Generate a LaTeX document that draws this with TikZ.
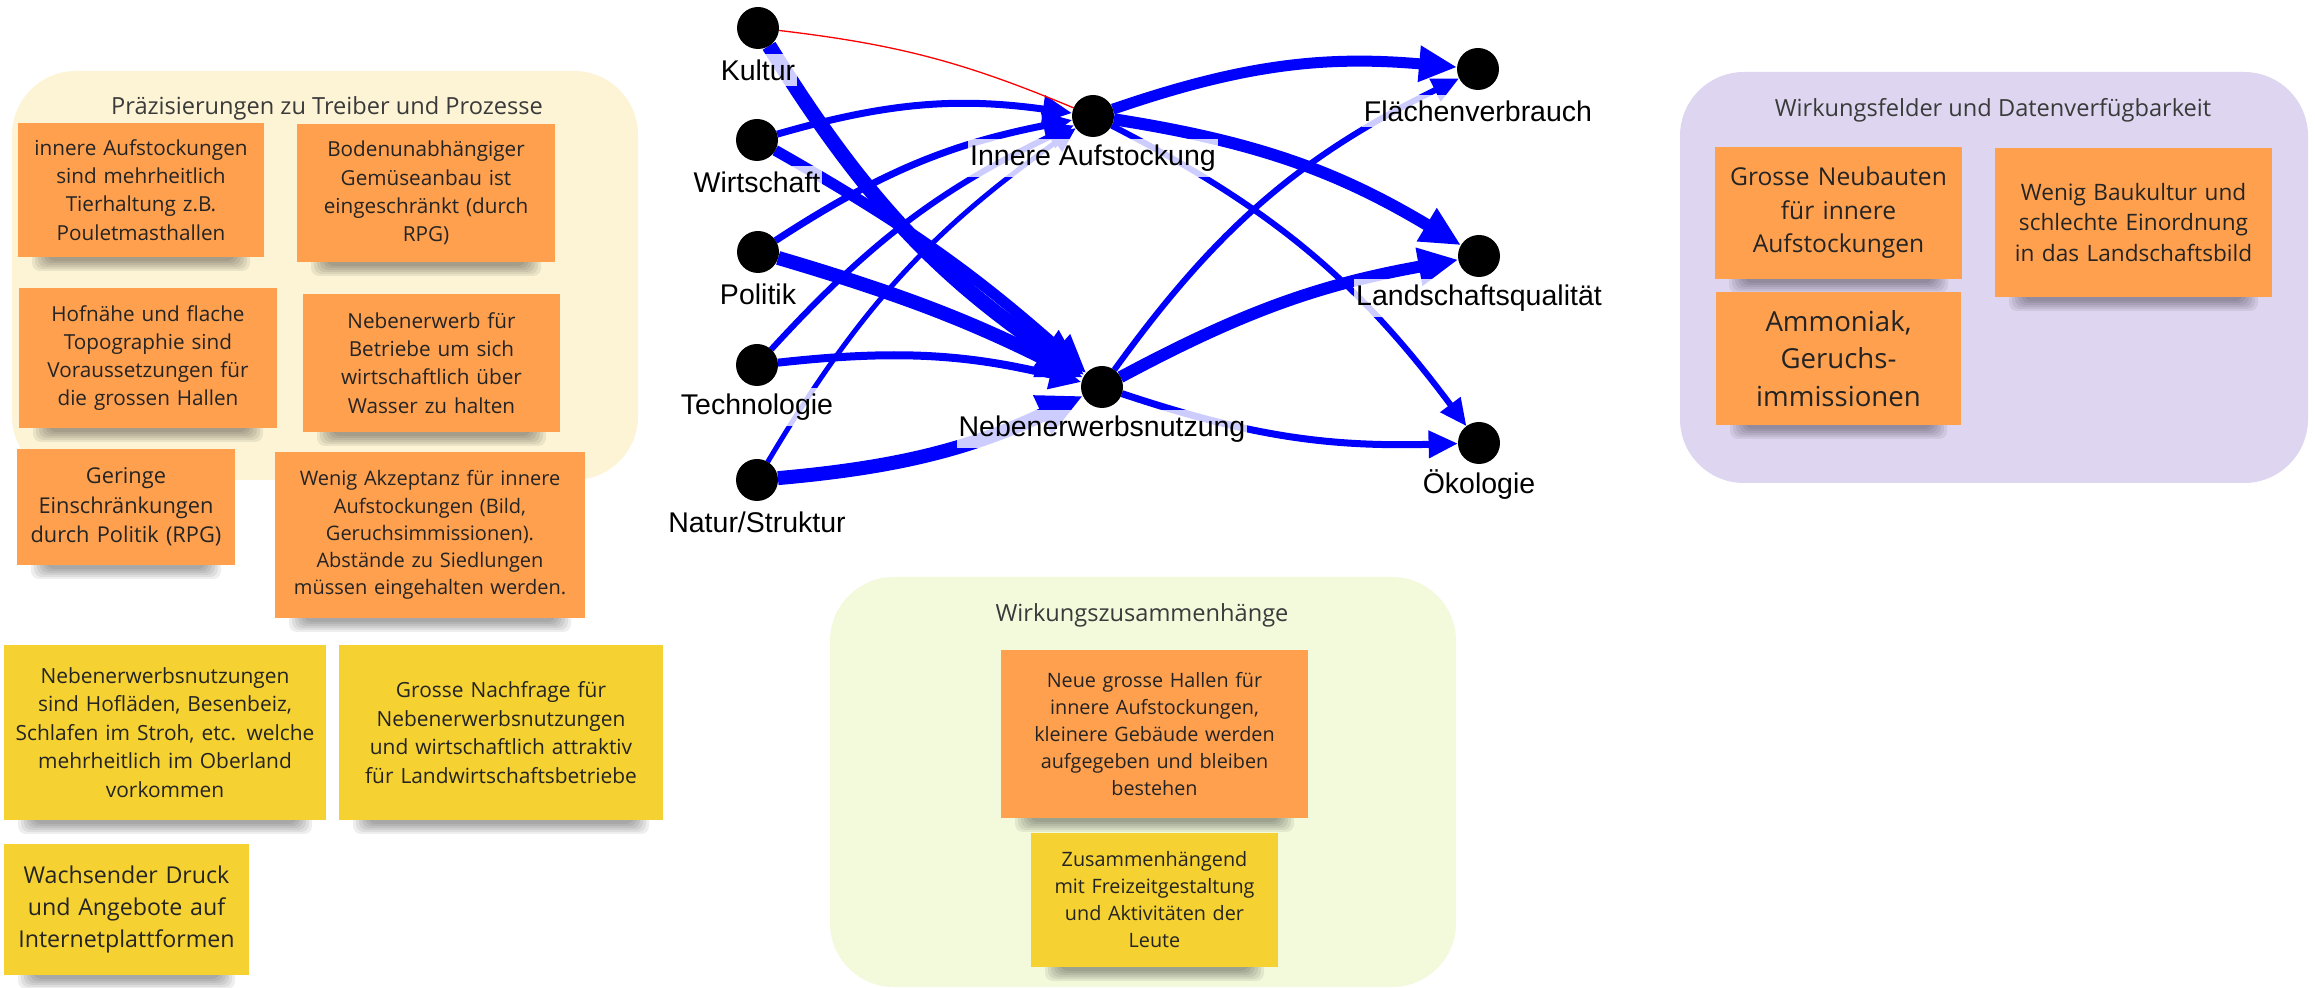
\documentclass[tikz,border=0pt]{standalone}
\usepackage{fontspec}
\setmainfont{Open Sans}
\newfontfamily\graphfont{Liberation Sans}
\usetikzlibrary{arrows.meta}

\definecolor{noteorange}{RGB}{255,160,78}
\definecolor{noteyellow}{RGB}{245,209,50}
\definecolor{zonecream}{RGB}{252,244,212}
\definecolor{zonegreen}{RGB}{243,249,219}
\definecolor{zonelilac}{RGB}{222,214,240}
\definecolor{inktext}{RGB}{36,36,36}
\definecolor{titletext}{RGB}{58,58,58}
\definecolor{linkblue}{RGB}{0,0,255}
\definecolor{linkred}{RGB}{255,0,0}

\pgfdeclarelayer{zones}
\pgfdeclarelayer{links}
\pgfsetlayers{zones,links,main}

% sticky note with a soft shadow under its lower edge:
% name, x1, y1, x2, y2, colour, font size (pt), text
\newcommand\stickynote[8]{%
  \pgfmathsetmacro\skw{(#4-#2)*0.5}%
  \pgfmathsetmacro\skh{(#5-#3)*0.5}%
  \pgfmathsetmacro\sktw{\skw-4}%
  \pgfmathsetmacro\skbs{#7*1.362}%
  \foreach \k in {0,...,5}{%
    \fill[black, opacity=0.065, rounded corners=4pt]
      ({#2+14+3*\k},{#5-20}) rectangle ({#4-14-3*\k},{#5+14-2*\k});}%
  \node[note, fill=#6, minimum width=\skw pt, minimum height=\skh pt,
        text width=\sktw pt, font={\fontsize{#7pt}{\skbs pt}\selectfont}]
        (#1) at ({(#2+#4)/2},{(#3+#5)/2}) {#8};}

\begin{document}
\begin{tikzpicture}[x=0.5pt, y=-0.5pt,
  zonetitle/.style={font=\fontsize{11.8pt}{14pt}\selectfont, text=titletext},
  note/.style={draw=none, align=center, inner sep=0pt, text=inktext},
  hub/.style={circle, fill=black, minimum size=21pt, inner sep=0pt, outer sep=0pt},
  hublabel/.style={font=\graphfont\fontsize{14.25pt}{16pt}\selectfont,
    fill=white, fill opacity=0.8, text opacity=1, inner xsep=1pt, inner ysep=3pt},
  flow/.style n args={3}{draw=linkblue, line width=#1, -{Triangle[length=#2, width=#3]}}]

\useasboundingbox (0,0) rectangle (2315,988);

% background zones
\begin{pgfonlayer}{zones}
  \fill[white] (0,0) rectangle (2315,988);
  \fill[zonecream, rounded corners=32pt] (12,71) rectangle (638,480);
  \fill[zonegreen, rounded corners=32pt] (830,577) rectangle (1456,987);
  \fill[zonelilac, rounded corners=32pt] (1680,72) rectangle (2308,483);
\end{pgfonlayer}

\node[zonetitle] (title-drivers) at (327,108) {Präzisierungen zu Treiber und Prozesse};
\node[zonetitle] (title-effects) at (1142,615) {Wirkungszusammenhänge};
\node[zonetitle] (title-fields) at (1993,110) {Wirkungsfelder und Datenverfügbarkeit};

% notes on drivers and processes
\stickynote{n1}{18}{123}{264}{257}{noteorange}{10.35}{innere Aufstockungen\\sind mehrheitlich\\Tierhaltung z.B.\\Pouletmasthallen}
\stickynote{n2}{297}{124}{555}{262}{noteorange}{10.35}{Bodenunabhängiger\\Gemüseanbau ist\\eingeschränkt (durch\\RPG)}
\stickynote{n3}{19}{288}{277}{428}{noteorange}{10.35}{Hofnähe und flache\\Topographie sind\\Voraussetzungen für\\die grossen Hallen}
\stickynote{n4}{303}{294}{560}{432}{noteorange}{10.35}{Nebenerwerb für\\Betriebe um sich\\wirtschaftlich über\\Wasser zu halten}
\stickynote{n5}{17}{449}{235}{565}{noteorange}{10.9}{Geringe\\Einschränkungen\\durch Politik (RPG)}
\stickynote{n6}{275}{452}{585}{618}{noteorange}{10}{Wenig Akzeptanz für innere\\Aufstockungen (Bild,\\Geruchsimmissionen).\\Abstände zu Siedlungen\\müssen eingehalten werden.}
\stickynote{n7}{4}{645}{326}{820}{noteyellow}{10.45}{Nebenerwerbsnutzungen\\sind Hofläden, Besenbeiz,\\Schlafen im Stroh, etc. welche\\mehrheitlich im Oberland\\vorkommen}
\stickynote{n8}{339}{645}{663}{820}{noteyellow}{10.45}{Grosse Nachfrage für\\Nebenerwerbsnutzungen\\und wirtschaftlich attraktiv\\für Landwirtschaftsbetriebe}
\stickynote{n9}{4}{844}{249}{975}{noteyellow}{11.6}{Wachsender Druck\\und Angebote auf\\Internetplattformen}

% notes on cause and effect
\stickynote{g1}{1001}{650}{1308}{818}{noteorange}{9.9}{Neue grosse Hallen für\\innere Aufstockungen,\\kleinere Gebäude werden\\aufgegeben und bleiben\\bestehen}
\stickynote{g2}{1031}{833}{1278}{967}{noteyellow}{9.9}{Zusammenhängend\\mit Freizeitgestaltung\\und Aktivitäten der\\Leute}

% notes on fields of effect
\stickynote{p1}{1715}{147}{1962}{279}{noteorange}{12.3}{Grosse Neubauten\\für innere\\Aufstockungen}
\stickynote{p2}{1716}{292}{1961}{425}{noteorange}{13.8}{Ammoniak,\\Geruchs-\\immissionen}
\stickynote{p3}{1995}{148}{2272}{297}{noteorange}{11.3}{Wenig Baukultur und\\schlechte Einordnung\\in das Landschaftsbild}

% graph nodes
\node[hub] (kultur) at (758,28) {};
\node[hub] (wirtschaft) at (757,140) {};
\node[hub] (politik) at (758,252) {};
\node[hub] (technologie) at (757,365) {};
\node[hub] (natur) at (757,480) {};
\node[hub] (innere) at (1093,116) {};
\node[hub] (neben) at (1102,387) {};
\node[hub] (flaeche) at (1478,69) {};
\node[hub] (landschaft) at (1479,256) {};
\node[hub] (oekologie) at (1479,443) {};

% influence links
\begin{pgfonlayer}{links}
  \draw[flow={3.5pt}{14.7pt}{13pt}] (wirtschaft) to[bend left=12] (innere);
  \draw[flow={3.5pt}{14.7pt}{13pt}] (politik) to[bend left=11] (innere);
  \draw[flow={3pt}{13.5pt}{12pt}] (technologie) to[bend left=11] (innere);
  \draw[flow={2.5pt}{12.5pt}{11pt}] (natur) to[bend left=12] (innere);
  \draw[flow={4pt}{16pt}{14pt}] (technologie) to[bend left=10] (neben);
  \draw[flow={7pt}{22.5pt}{20pt}] (natur) to[bend right=10] (neben);
  \draw[flow={7pt}{22.5pt}{20pt}] (politik) to[bend left=5] (neben);
  \draw[flow={5.5pt}{19pt}{17pt}] (wirtschaft) to[bend left=6] (neben);
  \draw[flow={7.5pt}{23.5pt}{21pt}] (kultur) to[bend right=12] (neben);
  \draw[flow={5.5pt}{19pt}{17pt}] (innere) to[bend left=12] (flaeche);
  \draw[flow={6pt}{20pt}{18pt}] (innere) to[bend left=11] (landschaft);
  \draw[flow={3pt}{13.5pt}{12pt}] (innere) to[bend left=13] (oekologie);
  \draw[flow={3pt}{13.5pt}{12pt}] (neben) to[bend left=14] (flaeche);
  \draw[flow={6pt}{20pt}{18pt}] (neben) to[bend left=9] (landschaft);
  \draw[flow={3.5pt}{14.7pt}{13pt}] (neben) to[bend right=10] (oekologie);
  \draw[draw=linkred, line width=0.65pt] (kultur) to[bend left=8] (innere);
\end{pgfonlayer}

% node labels
\node[hublabel] (kultur-l) at ([yshift=-21pt]kultur) {Kultur};
\node[hublabel] (wirtschaft-l) at ([yshift=-21pt]wirtschaft) {Wirtschaft};
\node[hublabel] (politik-l) at ([yshift=-21pt]politik) {Politik};
\node[hublabel] (technologie-l) at ([yshift=-21pt]technologie) {Technologie};
\node[hublabel] (natur-l) at ([yshift=-21pt]natur) {Natur/Struktur};
\node[hublabel] (innere-l) at ([yshift=-21pt]innere) {Innere Aufstockung};
\node[hublabel] (neben-l) at ([yshift=-21pt]neben) {Nebenerwerbsnutzung};
\node[hublabel] (flaeche-l) at ([yshift=-21pt]flaeche) {Flächenverbrauch};
\node[hublabel] (landschaft-l) at ([yshift=-21pt]landschaft) {Landschaftsqualität};
\node[hublabel] (oekologie-l) at ([yshift=-21pt]oekologie) {Ökologie};

\end{tikzpicture}
\end{document}
